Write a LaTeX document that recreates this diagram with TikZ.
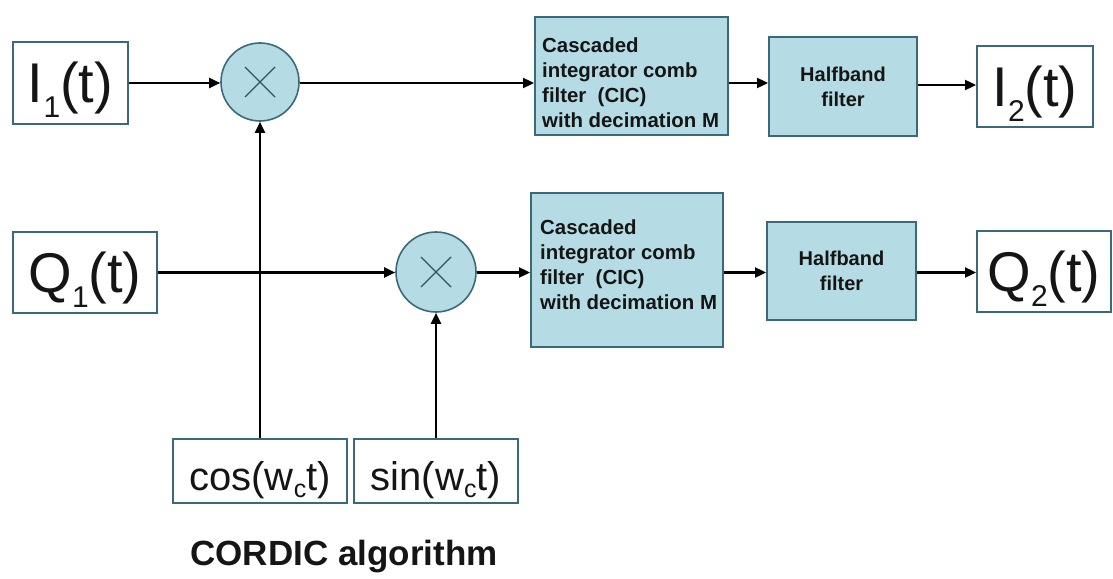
\documentclass[tikz,border=0pt]{standalone}
\usepackage{fontspec}
\setmainfont{Liberation Sans}
\usetikzlibrary{arrows.meta}
\definecolor{boxfill}{HTML}{B5DCE4}
\definecolor{edge}{HTML}{3A6A78}
\definecolor{ink}{HTML}{151515}

% signal names with a lowered subscript
\newcommand{\sigsub}[2]{#1\raisebox{-15pt}{\fontsize{30}{30}\selectfont #2}(t)}
\newcommand{\trig}[1]{#1(w\raisebox{-7pt}{\fontsize{25}{25}\selectfont c}t)}

\begin{document}
\begin{tikzpicture}[x=1pt,y=-1pt,
  sig/.style={draw=edge, line width=2pt, fill=white, inner sep=0pt, text=ink,
    font=\fontsize{56}{56}\selectfont, text height=45pt, text depth=6pt},
  trigbox/.style={draw=edge, line width=2pt, fill=white, inner sep=0pt, text=ink,
    font=\fontsize{40}{40}\selectfont, text height=40pt, text depth=2pt,
    minimum height=64pt},
  proc/.style={draw=edge, line width=2pt, fill=boxfill, inner sep=0pt},
  proctext/.style={inner sep=0pt, align=left, text=ink,
    font=\fontsize{20.4}{25}\selectfont\bfseries},
  hbox/.style={proc, align=center, text=ink,
    font=\fontsize{20}{25}\selectfont\bfseries},
  mult/.style={circle, draw=edge, line width=1.6pt, fill=boxfill,
    minimum size=78pt, inner sep=0pt},
  cross/.style={draw=edge!80!black, line width=1.4pt},
  wire/.style={draw=black, line width=2.3pt, -{Triangle[length=11pt,width=10pt]}}
]
\useasboundingbox (0,0) rectangle (1113,578);

% input signals
\node[sig, minimum width=115pt, minimum height=81pt] (in1) at (70.5,83) {\sigsub{I}{1}};
\node[sig, minimum width=144pt, minimum height=81pt] (in2) at (85,272.5) {\sigsub{Q}{1}};

% mixers
\node[mult] (mul1) at (260,82) {};
\node[mult, minimum size=80pt] (mul2) at (436,272) {};
\draw[cross] ([shift={(-15,-15)}]mul1.center) -- ([shift={(15,15)}]mul1.center)
             ([shift={(-15,15)}]mul1.center) -- ([shift={(15,-15)}]mul1.center);
\draw[cross] ([shift={(-15,-15)}]mul2.center) -- ([shift={(15,15)}]mul2.center)
             ([shift={(-15,15)}]mul2.center) -- ([shift={(15,-15)}]mul2.center);

% CIC decimators
\node[proc, minimum width=193pt, minimum height=118pt] (cic1) at (631.5,76) {};
\node[proctext, anchor=north west] (cic1t) at ([shift={(8,21.5)}]cic1.north west)
  {Cascaded\\integrator comb\\filter\ \ (CIC)\\with decimation M};
\node[proc, minimum width=192pt, minimum height=154pt] (cic2) at (627,270) {};
\node[proctext, anchor=north west] (cic2t) at ([shift={(10,27.5)}]cic2.north west)
  {Cascaded\\integrator comb\\filter\ \ (CIC)\\with decimation M};

% halfband filters
\node[hbox, minimum width=148pt, minimum height=99pt] (hb1) at (843,86.5) {Halfband\\filter};
\node[hbox, minimum width=149pt, minimum height=98pt] (hb2) at (841.5,271) {Halfband\\filter};

% outputs
\node[sig, minimum width=116pt, minimum height=81pt] (out1) at (1035,86.5) {\sigsub{I}{2}};
\node[sig, minimum width=134pt, minimum height=81pt] (out2) at (1044,271.5) {\sigsub{Q}{2}};

% CORDIC oscillator outputs
\node[trigbox, minimum width=174pt] (cosb) at (260,471) {\trig{cos}};
\node[trigbox, minimum width=164pt] (sinb) at (436,471) {\trig{sin}};
\node[text=ink, font=\fontsize{35}{35}\selectfont\bfseries] (cordic) at (344,557) {CORDIC algorithm};

% I path
\draw[wire] (in1.east) -- (mul1.west |- in1.east);
\draw[wire] (mul1.east |- in1.east) -- (cic1.west |- in1.east);
\draw[wire] (cic1.east |- in1.east) -- (hb1.west |- in1.east);
\draw[wire] (hb1.east |- 0,85) -- (out1.west |- 0,85);

% Q path
\draw[wire] (in2.east) -- (mul2.west |- in2.east);
\draw[wire] (mul2.east |- in2.east) -- (cic2.west |- in2.east);
\draw[wire] (cic2.east |- in2.east) -- (hb2.west |- in2.east);
\draw[wire] (hb2.east |- in2.east) -- (out2.west |- in2.east);

% local oscillator feeds
\draw[wire] (cosb.north) -- (mul1.south);
\draw[wire] (sinb.north) -- (mul2.south);
\end{tikzpicture}
\end{document}
